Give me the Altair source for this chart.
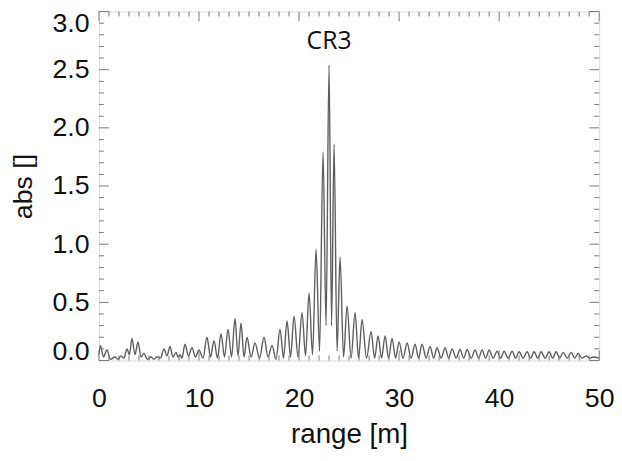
import altair as alt
import pandas as pd

# Signal: alternating lobe peaks and troughs (range in m, abs value)
range_m = [
    0.0, 0.15, 0.45, 0.8, 1.15, 1.6, 1.9, 2.2, 2.5, 2.8, 3.05, 3.3, 3.6, 3.9, 4.2, 4.5,
    4.85, 5.2, 5.5, 5.8, 6.15, 6.5, 6.8, 7.1, 7.4, 7.7, 7.9, 8.1, 8.3, 8.6, 8.95, 9.3,
    9.65, 10.0, 10.4, 10.8, 11.15, 11.5, 11.85, 12.2, 12.55, 12.9, 13.25, 13.6, 13.9, 14.2,
    14.5, 14.8, 15.2, 15.6, 16.05, 16.5, 16.9, 17.3, 17.7, 18.1, 18.45, 18.8, 19.15, 19.5,
    19.9, 20.3, 20.65, 21.0, 21.35, 21.7, 22.05, 22.4, 22.7, 23.0, 23.25, 23.5, 23.8, 24.1,
    24.45, 24.8, 25.2, 25.6, 25.95, 26.3, 26.75, 27.2, 27.55, 27.9, 28.25, 28.6, 28.95, 29.3,
    29.65, 30.0, 30.4, 30.8, 31.2, 31.6, 31.95, 32.3, 32.7, 33.1, 33.45, 33.8, 34.2, 34.6,
    34.95, 35.3, 35.7, 36.1, 36.45, 36.8, 37.2, 37.6, 37.95, 38.3, 38.65, 39.0, 39.4, 39.8,
    40.15, 40.5, 40.9, 41.3, 41.65, 42.0, 42.4, 42.8, 43.15, 43.5, 43.85, 44.2, 44.6, 45.0,
    45.35, 45.7, 46.05, 46.4, 46.8, 47.2, 47.55, 47.9, 48.3, 48.7, 49.05, 49.4, 50.0,
]
abs_val = [
    0.05, 0.13, 0.03, 0.09, 0.01, 0.03, 0.01, 0.04, 0.02, 0.10, 0.05, 0.19, 0.05, 0.16, 0.03, 0.06,
    0.01, 0.03, 0.01, 0.03, 0.02, 0.10, 0.04, 0.12, 0.03, 0.07, 0.03, 0.05, 0.02, 0.14, 0.04, 0.11,
    0.03, 0.09, 0.02, 0.20, 0.03, 0.17, 0.02, 0.23, 0.03, 0.27, 0.03, 0.36, 0.04, 0.32,
    0.03, 0.20, 0.03, 0.15, 0.02, 0.20, 0.03, 0.13, 0.01, 0.27, 0.02, 0.34, 0.03, 0.38,
    0.03, 0.41, 0.04, 0.58, 0.05, 0.96, 0.08, 1.79, 0.30, 2.54, 0.30, 1.86, 0.08, 0.89,
    0.03, 0.47, 0.02, 0.41, 0.02, 0.35, 0.02, 0.25, 0.02, 0.21, 0.02, 0.21, 0.02, 0.19,
    0.02, 0.16, 0.02, 0.15, 0.02, 0.14, 0.02, 0.14, 0.02, 0.12, 0.02, 0.11, 0.02, 0.11,
    0.02, 0.10, 0.02, 0.095, 0.02, 0.095, 0.02, 0.09, 0.02, 0.09, 0.02, 0.09, 0.02, 0.08,
    0.02, 0.08, 0.02, 0.08, 0.02, 0.075, 0.02, 0.075, 0.02, 0.075, 0.02, 0.075, 0.02, 0.075,
    0.02, 0.075, 0.02, 0.07, 0.02, 0.07, 0.02, 0.06, 0.02, 0.04, 0.02, 0.03, 0.02,
]

# Annotation
annot_x = [23.0]
annot_y = [2.75]
annot_text = ["CR3"]

# Axis ticks
x_major = [0, 10, 20, 30, 40, 50]
x_minor = [v for v in range(0, 51) if v % 10 != 0]
y_major = [0.0, 0.5, 1.0, 1.5, 2.0, 2.5, 3.0]
y_minor = [round(i * 0.1, 1) for i in range(31) if i % 5 != 0]

W, H = 506, 353
FONT = "Liberation Sans"
GRAY = "#7a7a7a"

xs = alt.Scale(domain=[0, 50], nice=False, zero=False)
ys = alt.Scale(domain=[0, 3.0], nice=False)

sig = pd.DataFrame({"r": range_m, "a": abs_val})
line = alt.Chart(sig).mark_line(
    color="#5e5e5e", strokeWidth=1.4, interpolate="monotone"
).encode(
    x=alt.X("r:Q", scale=xs, title="range [m]",
            axis=alt.Axis(values=x_major, ticks=False, domain=False, grid=False,
                          labelFlush=False, labelPadding=26, labelFontSize=27,
                          labelFont=FONT, labelColor="#111", titleFont=FONT,
                          titleFontSize=28, titleFontWeight="normal", titleColor="#111",
                          titlePadding=9, format="d")),
    y=alt.Y("a:Q", scale=ys, title="abs []",
            axis=alt.Axis(values=y_major, ticks=False, domain=False, grid=False,
                          labelPadding=10, labelFontSize=27, labelFont=FONT,
                          labelColor="#111", titleFont=FONT, titleFontSize=27,
                          titleFontWeight="normal", titleColor="#111",
                          titlePadding=15, format=".1f",
                          labelOffset={"condition": [
                              {"test": "datum.value >= 3", "value": 12},
                              {"test": "datum.value <= 0", "value": -9}],
                              "value": 0})),
)

text = alt.Chart(pd.DataFrame({"r": annot_x, "a": annot_y, "t": annot_text})).mark_text(
    font="Open Sans", fontSize=25, color="#111"
).encode(x=alt.X("r:Q", scale=xs), y=alt.Y("a:Q", scale=ys), text="t:N")


def yticks(vals, length):
    d = pd.DataFrame({"a": vals})
    left = alt.Chart(d).mark_rule(color=GRAY, strokeWidth=1).encode(
        y=alt.Y("a:Q", scale=ys), x=alt.value(0), x2=alt.value(length))
    right = alt.Chart(d).mark_rule(color=GRAY, strokeWidth=1).encode(
        y=alt.Y("a:Q", scale=ys), x=alt.value(W - length), x2=alt.value(W))
    return [left, right]


def xticks(vals, length):
    d = pd.DataFrame({"r": vals})
    bottom = alt.Chart(d).mark_rule(color=GRAY, strokeWidth=1).encode(
        x=alt.X("r:Q", scale=xs), y=alt.value(H), y2=alt.value(H - length))
    top = alt.Chart(d).mark_rule(color=GRAY, strokeWidth=1).encode(
        x=alt.X("r:Q", scale=xs), y=alt.value(0), y2=alt.value(length))
    return [bottom, top]


layers = ([line, text] + yticks(y_major, 10) + yticks(y_minor, 5)
          + xticks(x_major, 10) + xticks(x_minor, 5))

chart = alt.layer(*layers).properties(
    width=W, height=H,
    autosize=alt.AutoSizeParams(type="none"),
    padding={"left": 92, "top": 1, "right": 15, "bottom": 90},
).configure_view(stroke=GRAY, strokeWidth=1.2).configure(background="white")

chart.save("out.html", embed_options={"renderer": "svg", "actions": False})
